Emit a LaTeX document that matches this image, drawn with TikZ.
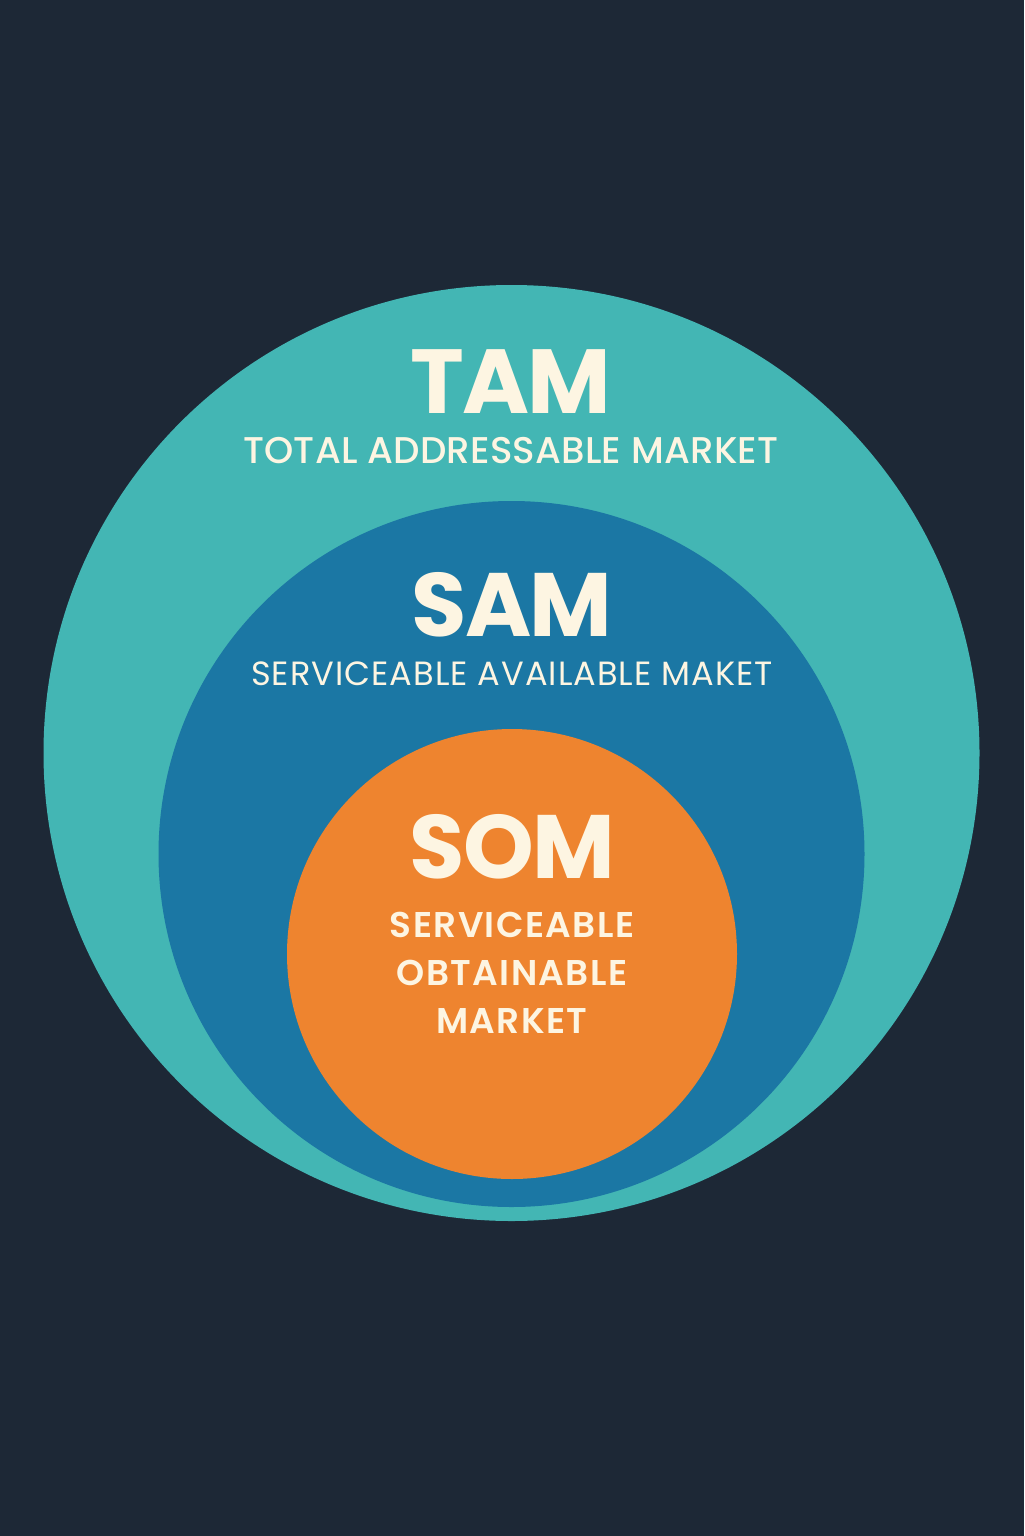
\documentclass[tikz,border=0pt]{standalone}
\usepackage{fontspec}
\setmainfont{Poppins}
\newfontfamily\medfont{Poppins Medium}
\newfontfamily\semifont{Poppins SemiBold}
\usetikzlibrary{positioning}
\definecolor{NightBg}{HTML}{1D2836}
\definecolor{TamTeal}{HTML}{43B6B4}
\definecolor{SamBlue}{HTML}{1B77A4}
\definecolor{SomOrange}{HTML}{EE842F}
\definecolor{Cream}{HTML}{FDF5E2}
\tikzset{
  ring/.style={circle, fill=#1, draw=none, inner sep=0pt},
  bigtag/.style={font=\fontsize{#1}{#1}\selectfont\bfseries\addfontfeature{LetterSpace=-2},
                 text=Cream, anchor=base, inner sep=0pt},
  subtag/.style={font=\fontsize{#1}{24}\selectfont\medfont\addfontfeature{LetterSpace=0.5},
                 text=Cream, anchor=base, inner sep=0pt, align=center},
}
\begin{document}
\begin{tikzpicture}[x=0.5pt, y=-0.5pt]

  %% BACKGROUND
  \fill[NightBg] (0,0) rectangle (1024,1536);
  \useasboundingbox (0,0) rectangle (1024,1536);

  %% NESTED MARKETS
  \node[ring=TamTeal,   minimum size=468pt] (tam) at (511.5,753) {};
  \node[ring=SamBlue,   minimum size=353pt] (sam) at (511.5,854) {};
  \node[ring=SomOrange, minimum size=225pt] (som) at (512,954)   {};

  %% LABELS
  \node[bigtag=45.5] (tamlbl) at (511,413) {TAM};
  \node[subtag=18.6] (tamsub) at (511,463) {TOTAL ADDRESSABLE MARKET};

  \node[bigtag=45] (samlbl) at (512,636) {SAM};
  \node[subtag=16.8, font=\fontsize{16.8}{24}\selectfont\addfontfeature{LetterSpace=3}]
       (samsub) at (512,685) {SERVICEABLE AVAILABLE MAKET};

  \node[bigtag=45] (somlbl) at (512,878) {SOM};
  \node[subtag=17.9, font=\fontsize{17.9}{24}\selectfont\semifont\addfontfeature{LetterSpace=4}]
       (somsub) at (512,1033) {SERVICEABLE\\OBTAINABLE\\MARKET};

\end{tikzpicture}
\end{document}
